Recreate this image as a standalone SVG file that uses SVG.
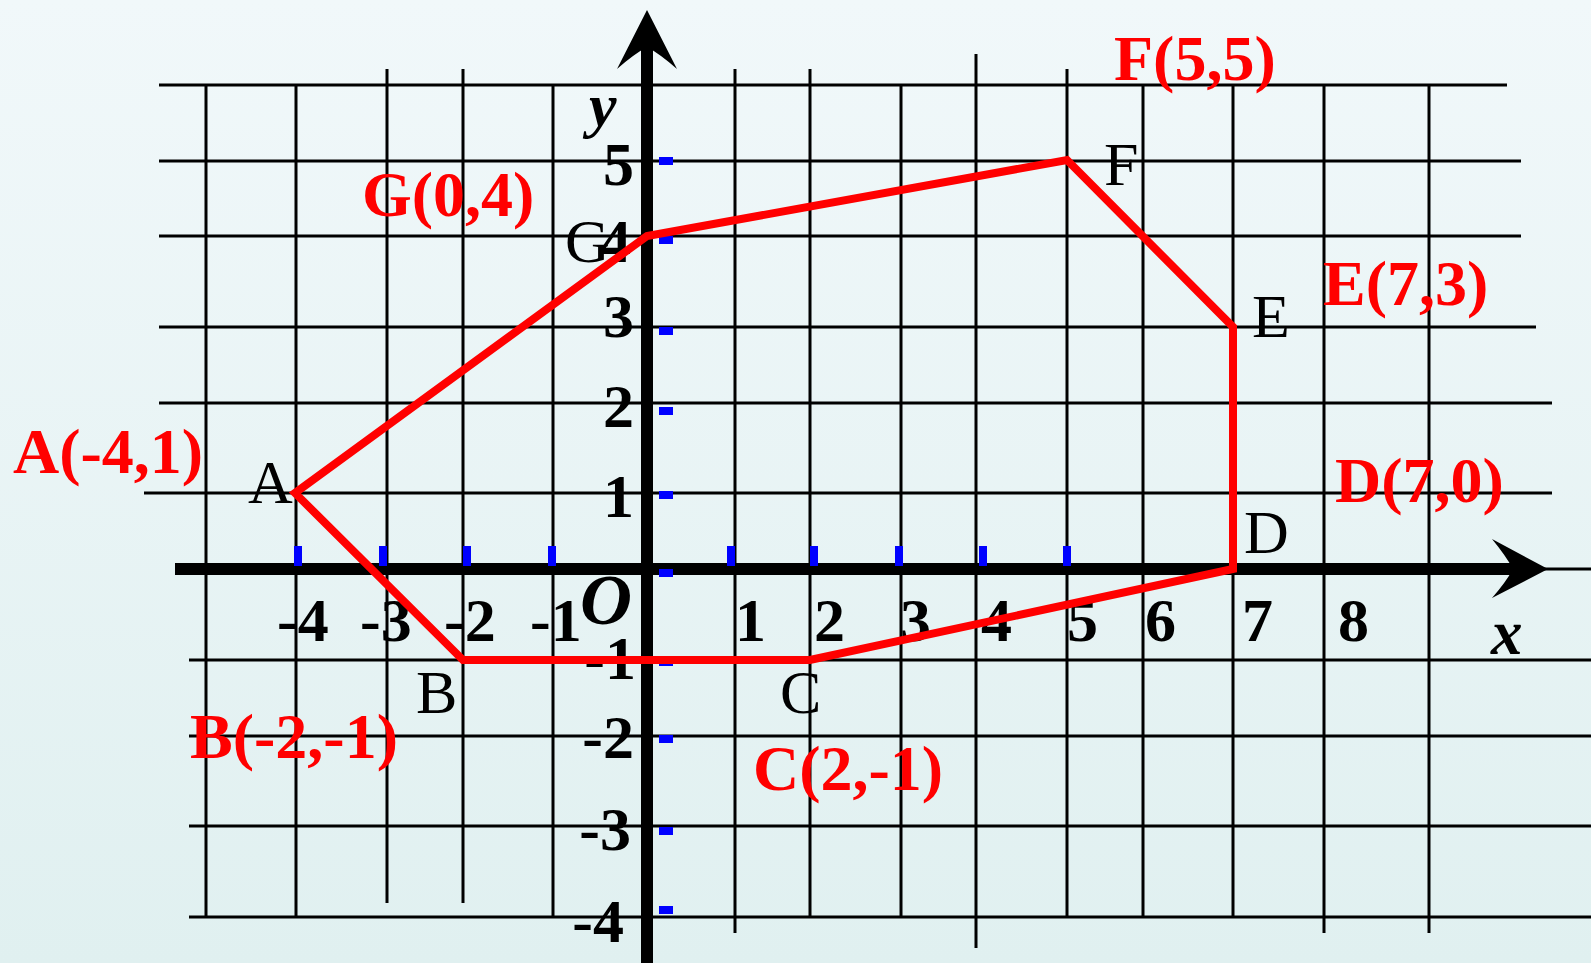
<svg xmlns="http://www.w3.org/2000/svg" width="1591" height="963" viewBox="0 0 1591 963">
<style>
.grid line{stroke:#000;stroke-width:3}
.tickx{fill:#0000FF}
.ticky{fill:#0000FF}
.num{font-family:"Liberation Serif","Times New Roman",serif;font-weight:bold;font-size:62px;fill:#000}
.pt{font-family:"Liberation Serif","Times New Roman",serif;font-size:62px;fill:#000}
.coord{font-family:"Liberation Serif","Times New Roman",serif;font-weight:bold;font-size:64px;fill:#FF0000}
.var{font-family:"Liberation Serif","Times New Roman",serif;font-weight:bold;font-style:italic;fill:#000}
</style>
<defs>
<linearGradient id="bg" x1="0" y1="0" x2="0" y2="1">
<stop offset="0" stop-color="#F1F8FA"/>
<stop offset="1" stop-color="#E0F0F0"/>
</linearGradient>
</defs>
<rect width="1591" height="963" fill="url(#bg)"/>
<g id="grid" class="grid">
<line x1="206" y1="85" x2="206" y2="917"/>
<line x1="296" y1="85" x2="296" y2="917"/>
<line x1="387" y1="69" x2="387" y2="903"/>
<line x1="463" y1="69" x2="463" y2="903"/>
<line x1="553" y1="85" x2="553" y2="917"/>
<line x1="735" y1="69" x2="735" y2="933"/>
<line x1="810" y1="69" x2="810" y2="917"/>
<line x1="901" y1="85" x2="901" y2="917"/>
<line x1="976" y1="54" x2="976" y2="948"/>
<line x1="1067" y1="69" x2="1067" y2="917"/>
<line x1="1143" y1="85" x2="1143" y2="917"/>
<line x1="1233" y1="85" x2="1233" y2="917"/>
<line x1="1324" y1="85" x2="1324" y2="933"/>
<line x1="1429" y1="85" x2="1429" y2="933"/>
<line x1="159" y1="85" x2="1507" y2="85"/>
<line x1="159" y1="161" x2="1521" y2="161"/>
<line x1="159" y1="236" x2="1521" y2="236"/>
<line x1="159" y1="327" x2="1536" y2="327"/>
<line x1="159" y1="403" x2="1552" y2="403"/>
<line x1="144" y1="493" x2="1552" y2="493"/>
<line x1="189" y1="660" x2="1591" y2="660"/>
<line x1="189" y1="736" x2="1591" y2="736"/>
<line x1="189" y1="826" x2="1591" y2="826"/>
<line x1="189" y1="917" x2="1591" y2="917"/>
</g>
<g id="axes">
<line x1="647" y1="45" x2="647" y2="963" stroke="#000" stroke-width="12"/>
<path d="M647,10 L677,69 Q660,54 647,47 Q634,54 617,69 Z" fill="#000"/>
<line x1="175" y1="569" x2="1515" y2="569" stroke="#000" stroke-width="12"/>
<path d="M1548,569 L1492,598 Q1506,582 1513,569 Q1506,556 1492,539 Z" fill="#000"/>
<line x1="1540" y1="569" x2="1591" y2="569" stroke="#000" stroke-width="3"/>
</g>
<g id="ticks">
<rect class="tickx" x="294" y="546" width="8" height="20"/>
<rect class="tickx" x="379" y="546" width="8" height="20"/>
<rect class="tickx" x="463" y="546" width="8" height="20"/>
<rect class="tickx" x="548" y="546" width="8" height="20"/>
<rect class="tickx" x="727" y="546" width="8" height="20"/>
<rect class="tickx" x="810" y="546" width="8" height="20"/>
<rect class="tickx" x="895" y="546" width="8" height="20"/>
<rect class="tickx" x="979" y="546" width="8" height="20"/>
<rect class="tickx" x="1063" y="546" width="8" height="20"/>
<rect class="ticky" x="659" y="157" width="14" height="8"/>
<rect class="ticky" x="659" y="236" width="14" height="8"/>
<rect class="ticky" x="659" y="327" width="14" height="8"/>
<rect class="ticky" x="659" y="407" width="14" height="8"/>
<rect class="ticky" x="659" y="491" width="14" height="8"/>
<rect class="ticky" x="659" y="569" width="14" height="8"/>
<rect class="ticky" x="659" y="658" width="14" height="8"/>
<rect class="ticky" x="659" y="735" width="14" height="8"/>
<rect class="ticky" x="659" y="827" width="14" height="8"/>
<rect class="ticky" x="659" y="906" width="14" height="8"/>
</g>
<g id="axis-labels">
<text class="num" x="634" y="185" text-anchor="end">5</text>
<text class="num" x="631" y="262" text-anchor="end">4</text>
<text class="num" x="634" y="337" text-anchor="end">3</text>
<text class="num" x="634" y="427" text-anchor="end">2</text>
<text class="num" x="634" y="517" text-anchor="end">1</text>
<text class="num" x="636" y="679" text-anchor="end">-1</text>
<text class="num" x="634" y="758" text-anchor="end">-2</text>
<text class="num" x="631" y="850" text-anchor="end">-3</text>
<text class="num" x="624" y="942" text-anchor="end">-4</text>
<text class="num" x="277" y="641">-4</text>
<text class="num" x="360" y="641">-3</text>
<text class="num" x="444" y="641">-2</text>
<text class="num" x="530" y="641">-1</text>
<text class="num" x="735" y="641">1</text>
<text class="num" x="814" y="641">2</text>
<text class="num" x="900" y="641">3</text>
<text class="num" x="981" y="641">4</text>
<text class="num" x="1067" y="641">5</text>
<text class="num" x="1145" y="641">6</text>
<text class="num" x="1242" y="641">7</text>
<text class="num" x="1338" y="641">8</text>
<text class="var" x="580" y="624" font-size="72">O</text>
<text class="var" x="589" y="126" font-size="62">y</text>
<text class="var" x="1491" y="654" font-size="63">x</text>
</g>
<g id="point-letters">
<text class="pt" x="248" y="503">A</text>
<text class="pt" x="416" y="713">B</text>
<text class="pt" x="780" y="713">C</text>
<text class="pt" x="1244" y="553">D</text>
<text class="pt" x="1252" y="337">E</text>
<text class="pt" x="1104" y="185">F</text>
<text class="pt" x="565" y="262">G</text>
</g>
<g id="polygon">
<polygon points="295,493 463,660 810,660 1233,569 1233,327 1067,160 647,236" fill="none" stroke="#FF0000" stroke-width="8" stroke-linejoin="miter"/>
</g>
<g id="coordinate-labels">
<text class="coord" x="13" y="473">A(-4,1)</text>
<text class="coord" x="190" y="758">B(-2,-1)</text>
<text class="coord" x="753" y="790">C(2,-1)</text>
<text class="coord" x="1335" y="502">D(7,0)</text>
<text class="coord" x="1323" y="305">E(7,3)</text>
<text class="coord" x="1114" y="80">F(5,5)</text>
<text class="coord" x="362" y="216">G(0,4)</text>
</g>
</svg>
